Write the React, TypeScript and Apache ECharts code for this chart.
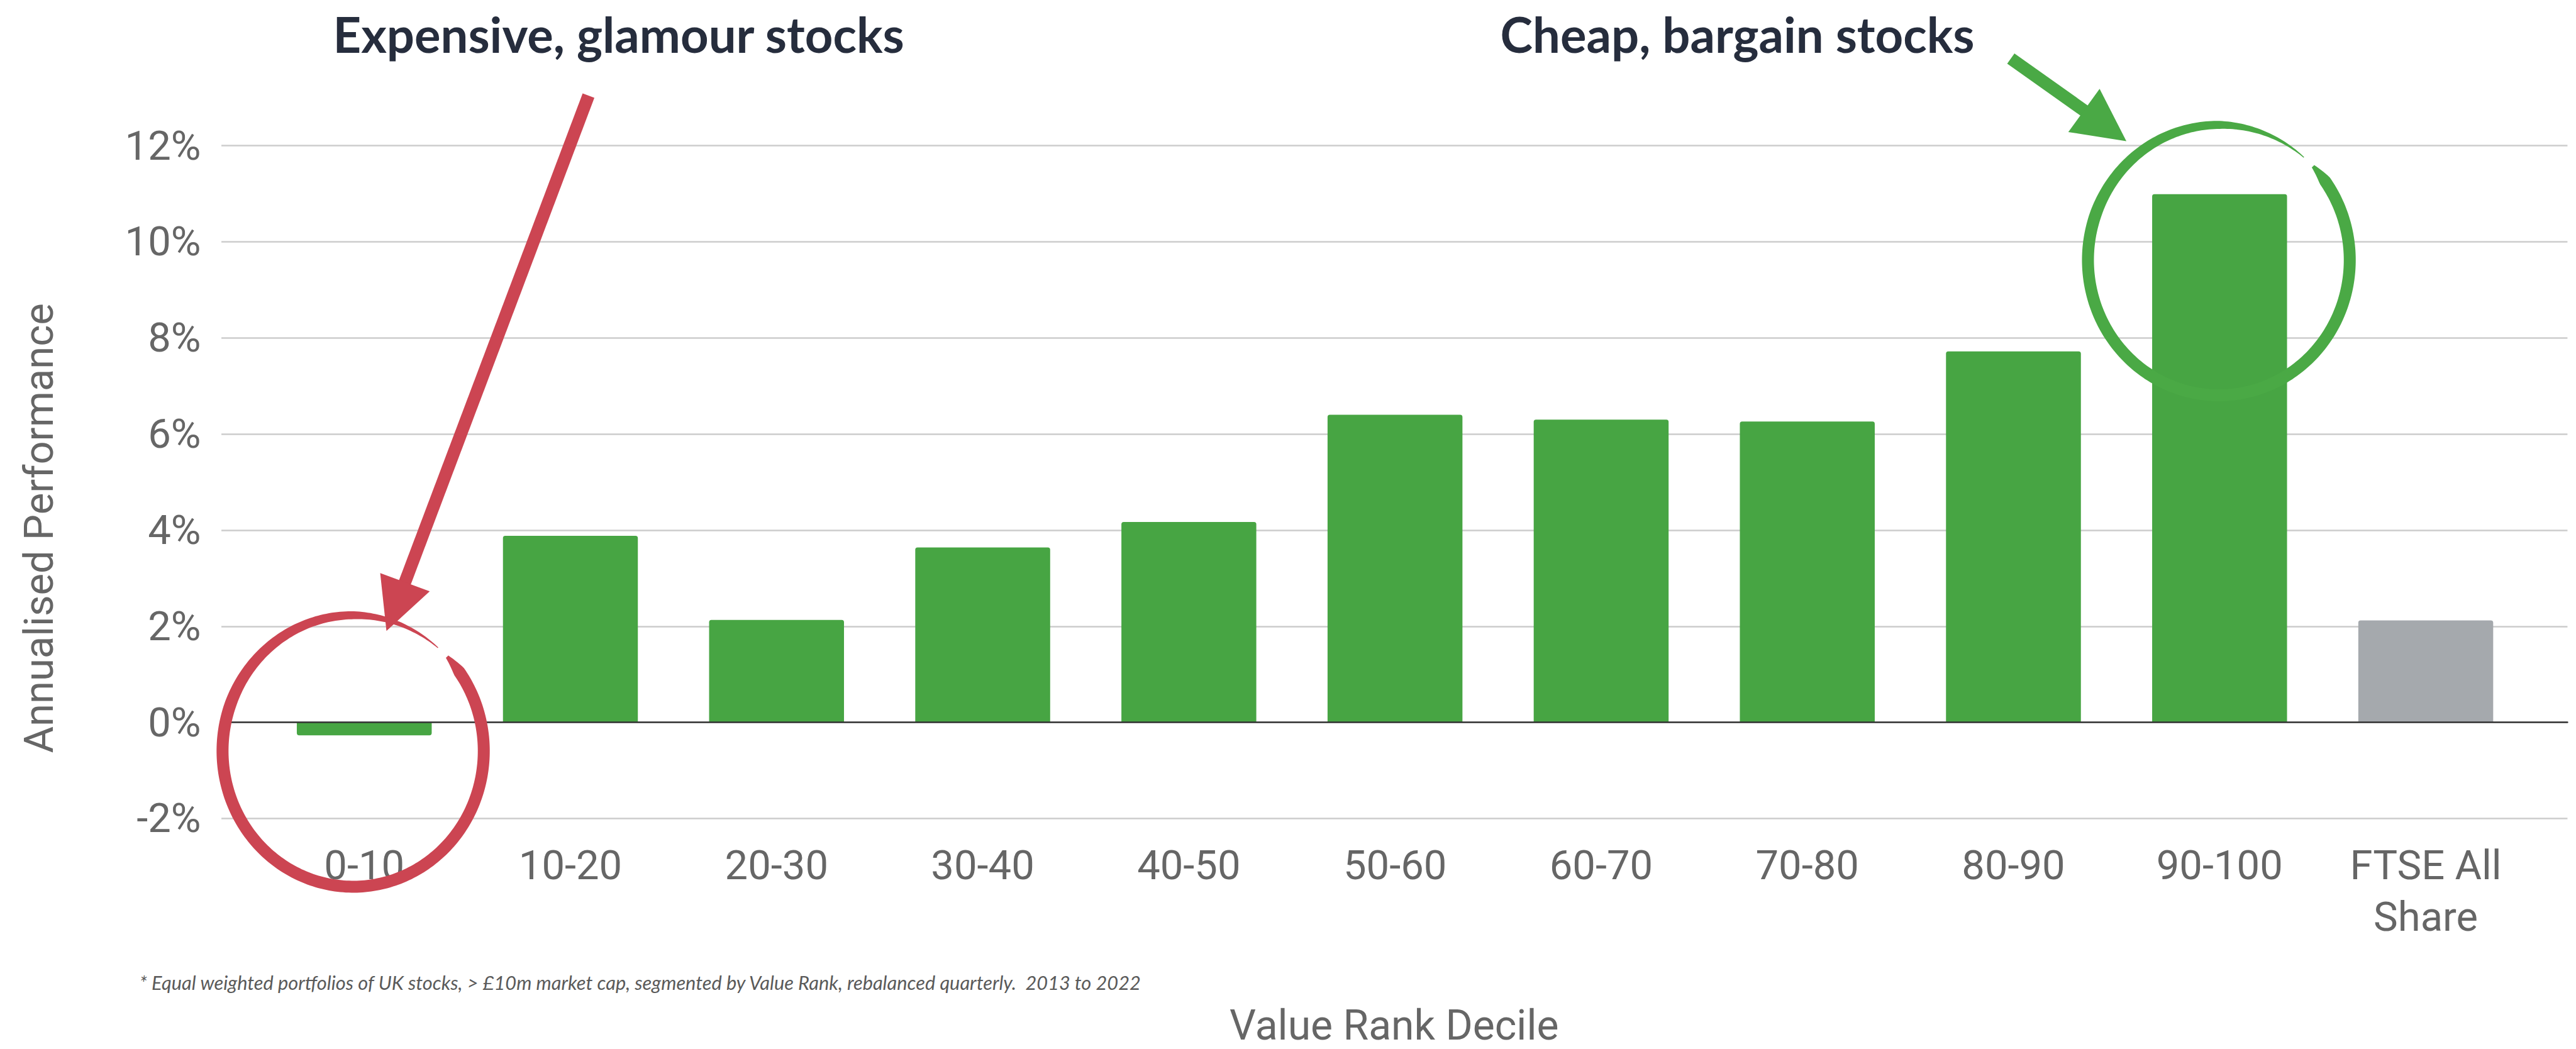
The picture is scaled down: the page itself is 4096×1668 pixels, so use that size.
import React, { useEffect, useRef } from "react";
import * as echarts from "echarts";

const W = 4096;
const H = 1668;
const s = W / 4526;
const S = (v: number) => v * s;

// ---- data ----
const categories = ["0-10", "10-20", "20-30", "30-40", "40-50", "50-60", "60-70", "70-80", "80-90", "90-100", "FTSE All\nShare"];
const performance = [-0.27, 3.88, 2.13, 3.64, 4.17, 6.4, 6.3, 6.26, 7.72, 10.99, 2.12];
const benchmarkIndex = 10;
const yMin = -2;
const yMax = 12;
const yStep = 2;

const titleLeft = "Expensive, glamour stocks";
const titleRight = "Cheap, bargain stocks";
const yTitle = "Annualised Performance";
const xTitle = "Value Rank Decile";
const footnote = "* Equal weighted portfolios of UK stocks, > £10m market cap, segmented by Value Rank, rebalanced quarterly.  2013 to 2022";

// ---- styles ----
const GREEN = "#47a543";
const GRAY_BAR = "#a5a9ad";
const RED = "#cc4552";
const RING_GREEN = "#4aa945";
const LABEL = "#666666";
const DARK = "#262d3d";

function ring(cx: number, cy: number, rx: number, ry: number, a0: number, a1: number, thick: (a: number) => number) {
  const outer: number[][] = [];
  const inner: number[][] = [];
  const n = 300;
  for (let k = 0; k <= n; k++) {
    const a = a0 + ((a1 - a0) * k) / n;
    const r = (a * Math.PI) / 180;
    const t = thick(a) / 2;
    const c = Math.cos(r);
    const sn = Math.sin(r);
    outer.push([S(cx + (rx + t) * c), S(cy + (ry + t) * sn)]);
    inner.push([S(cx + (rx - t) * c), S(cy + (ry - t) * sn)]);
  }
  return outer.concat(inner.reverse());
}

const thickness = (a: number) => {
  if (a < -36) return 6 + ((a + 44) / 8) * 15;
  if (a < 200) return 21;
  if (a < 270) return 21 - ((a - 200) / 70) * 7;
  return Math.max(1.5, 14 - ((a - 270) / 40.5) * 12.5);
};

function arrow(p0: number[], p1: number[], head: number[][], color: string, w: number) {
  const dx = p1[0] - p0[0];
  const dy = p1[1] - p0[1];
  const len = Math.hypot(dx, dy);
  const ex = p1[0] + (dx / len) * 20;
  const ey = p1[1] + (dy / len) * 20;
  return [
    {
      type: "line",
      z: 100,
      shape: { x1: S(p0[0]), y1: S(p0[1]), x2: S(ex), y2: S(ey) },
      style: { stroke: color, lineWidth: S(w), lineCap: "butt" },
    },
    {
      type: "polygon",
      z: 100,
      shape: { points: head.map((p) => [S(p[0]), S(p[1])]) },
      style: { fill: color },
    },
  ];
}

export default function App() {
  const ref = useRef<HTMLDivElement>(null);
  useEffect(() => {
    if (!ref.current) return;
    const chart = echarts.init(ref.current, undefined, { renderer: "svg" });
    const r = S(4);
    const gridTop = S(256);
    const gridBottom = H - S(1438);
    const option: any = {
      animation: false,
      backgroundColor: "#ffffff",
      grid: [
        { left: S(389), right: W - S(4511), top: gridTop, bottom: gridBottom },
        { left: S(458.9), right: W - S(4443.1), top: gridTop, bottom: gridBottom },
      ],
      xAxis: [
        {
          gridIndex: 0,
          type: "category",
          data: categories,
          axisLine: { show: true, onZero: true, lineStyle: { color: "#333333", width: 2.5 } },
          axisTick: { show: false },
          axisLabel: { show: false },
          splitLine: { show: false },
          z: 5,
        },
        {
          gridIndex: 1,
          type: "category",
          data: categories,
          axisLine: { show: false, onZero: false },
          axisTick: { show: false },
          splitLine: { show: false },
          axisLabel: {
            interval: 0,
            margin: S(36.5),
            fontFamily: "Roboto",
            fontSize: S(72),
            lineHeight: S(91),
            color: LABEL,
            align: "center",
          },
        },
      ],
      yAxis: [
        {
          gridIndex: 0,
          type: "value",
          min: yMin,
          max: yMax,
          interval: yStep,
          axisLine: { show: false },
          axisTick: { show: false },
          axisLabel: {
            formatter: "{value}%",
            margin: S(36),
            fontFamily: "Roboto",
            fontSize: S(72),
            color: LABEL,
          },
          splitLine: { show: true, lineStyle: { color: "#cccccc", width: 2.5 } },
        },
        {
          gridIndex: 1,
          type: "value",
          min: yMin,
          max: yMax,
          interval: yStep,
          show: false,
          splitLine: { show: false },
        },
      ],
      series: [
        {
          type: "bar",
          xAxisIndex: 1,
          yAxisIndex: 1,
          barWidth: S(237),
          z: 2,
          data: performance.map((v, i) => ({
            value: v,
            itemStyle: {
              color: i === benchmarkIndex ? GRAY_BAR : GREEN,
              borderRadius: v >= 0 ? [r, r, 0, 0] : [0, 0, r, r],
            },
          })),
        },
      ],
      graphic: [
        {
          type: "text",
          z: 100,
          x: S(585),
          y: S(59.3),
          style: {
            text: titleLeft,
            fontFamily: "Lato",
            fontWeight: "bold",
            fontSize: S(86),
            fill: DARK,
            align: "left",
            verticalAlign: "middle",
          },
        },
        {
          type: "text",
          z: 100,
          x: S(2636),
          y: S(59.3),
          style: {
            text: titleRight,
            fontFamily: "Lato",
            fontWeight: "bold",
            fontSize: S(86),
            fill: DARK,
            align: "left",
            verticalAlign: "middle",
          },
        },
        {
          type: "text",
          z: 100,
          x: S(69),
          y: S(928),
          rotation: Math.PI / 2,
          style: {
            text: yTitle,
            fontFamily: "Roboto",
            fontSize: S(72),
            fill: LABEL,
            align: "center",
            verticalAlign: "middle",
          },
        },
        {
          type: "text",
          z: 100,
          x: S(2449.5),
          y: S(1802),
          style: {
            text: xTitle,
            fontFamily: "Roboto",
            fontSize: S(73),
            fill: LABEL,
            align: "center",
            verticalAlign: "middle",
          },
        },
        {
          type: "text",
          z: 100,
          x: S(245),
          y: S(1726),
          style: {
            text: footnote,
            fontFamily: "Lato",
            fontStyle: "italic",
            fontSize: S(34),
            fill: "#5a5a5a",
            align: "left",
            verticalAlign: "middle",
          },
        },
        ...arrow([1034, 168], [711.5, 1023], [[668, 1007], [755, 1039], [679, 1108.5]], RED, 22),
        ...arrow([3533, 103], [3661.5, 194], [[3689, 156], [3634, 232], [3736, 248]], RING_GREEN, 22),
        {
          type: "polygon",
          z: 101,
          shape: { points: ring(620.5, 1319.5, 229.5, 238.5, -44, 310.5, thickness) },
          style: { fill: RED },
        },
        {
          type: "polygon",
          z: 101,
          shape: { points: ring(3898.5, 457, 230, 237.5, -44, 310.5, thickness) },
          style: { fill: RING_GREEN },
        },
      ],
    };
    chart.setOption(option);
    return () => chart.dispose();
  }, []);
  return (
    <div
      ref={ref}
      style={{ position: "fixed", left: 0, top: 0, width: W + "px", height: H + "px", background: "#fff" }}
    />
  );
}
